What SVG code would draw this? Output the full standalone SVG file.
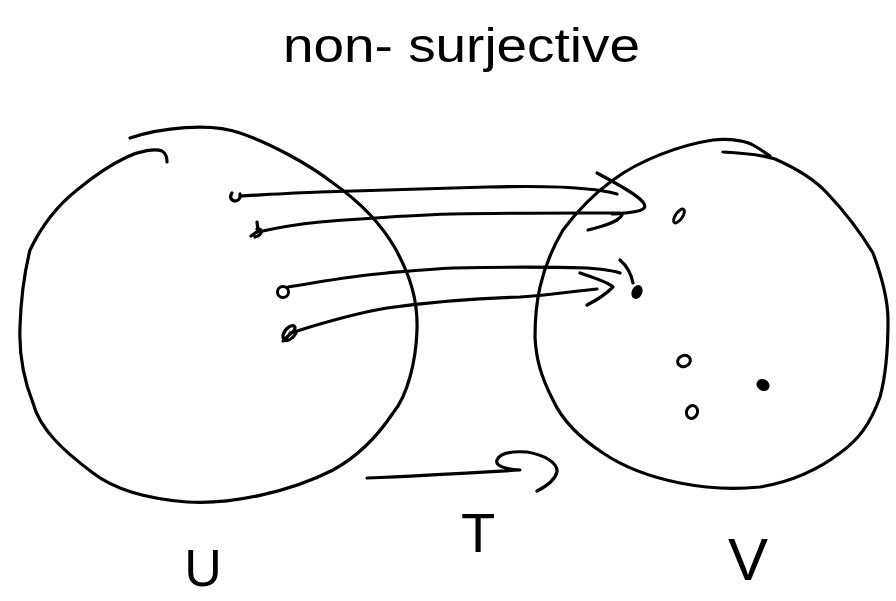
<svg xmlns="http://www.w3.org/2000/svg" width="896" height="601" viewBox="0 0 896 601">
<style>
.ink{fill:none;stroke:#000;stroke-width:3.2;stroke-linecap:round;stroke-linejoin:round}
.dot{fill:none;stroke:#000;stroke-width:3}
.fdot{fill:#000;stroke:#000;stroke-width:2.5}
.lbl{font-family:"Liberation Sans","DejaVu Sans",sans-serif;fill:#000;font-weight:normal}
</style>
<rect width="896" height="601" fill="#fff"/>
<text class="lbl" x="283" y="62" font-size="48" textLength="357" lengthAdjust="spacingAndGlyphs">non- surjective</text>
<g id="U">
<path class="ink" d="M130,138 C160,128 210,122 240,133 C270,143 310,165 333,183 C360,202 380,222 395,248 C410,275 418,300 417,330 C416,360 408,395 393,413 C375,440 355,458 333,470 C290,492 230,505 187,502 C150,499 115,490 93,473 C65,452 40,430 33,403 C22,375 19,350 20,327 C21,295 25,270 30,250 C42,225 58,205 77,190 C95,175 110,165 127,157 C140,151 155,148 162,151 C167,154 167,160 167,162"/>
<path class="ink" d="M232,193 C229,197 231,201 236,201 C240,200 241,196 240,194"/>
<path class="ink" d="M251,236 L258,231 L257,222 M255,237 C263,235 263,228 257,229"/>
<circle class="dot" cx="283" cy="292" r="5.5"/>
<path class="ink" d="M283,341 C288,335 296,331 295,327 C293,323 285,328 283,335 C282,343 291,342 296,333"/>
<text class="lbl" x="203" y="586" font-size="52" text-anchor="middle">U</text>
</g>
<g id="V">
<path class="ink" d="M723,152 C745,153 765,156 775,159 C800,170 815,180 827,193 C848,215 862,235 873,253 C883,280 888,300 888,320 C888,350 886,375 880,397 C870,425 858,440 840,453 C815,472 790,482 760,487 C730,490 705,488 680,483 C650,477 625,468 603,453 C580,438 562,420 553,400 C540,375 536,357 535,337 C535,315 537,300 540,287 C545,265 553,247 563,230 C578,210 595,193 613,180 C640,160 680,145 713,140 C733,138 748,142 753,145 C760,149 764,152 770,156"/>
<ellipse class="dot" cx="679" cy="216" rx="3.5" ry="8" transform="rotate(35 679 216)"/>
<ellipse class="fdot" cx="637" cy="292" rx="4" ry="6" transform="rotate(25 637 292)"/>
<ellipse class="dot" cx="684" cy="361" rx="6.5" ry="5.5" transform="rotate(-20 684 361)"/>
<ellipse class="fdot" cx="763" cy="385" rx="5.5" ry="4.5" transform="rotate(30 763 385)"/>
<ellipse class="dot" cx="692" cy="412" rx="5.5" ry="6.5" transform="rotate(20 692 412)"/>
<text class="lbl" x="748" y="580" font-size="60" text-anchor="middle">V</text>
</g>
<g id="connectors">
<path class="ink" d="M240,196 C260,195 290,193 320,192 C380,190 440,188 487,187 C530,186 570,187 587,189 C600,190 610,192 617,194"/>
<path class="ink" d="M597,173 C625,188 652,203 643,209 C637,213 625,213 612,214"/>
<path class="ink" d="M258,232 C280,227 300,224 320,222 C370,218 410,215 453,214 C500,213 550,213 587,213 C600,213 612,213 620,213"/>
<path class="ink" d="M622,215 C618,222 605,226 588,230"/>
<path class="ink" d="M288,287 C320,282 350,276 387,273 C410,271 430,269 453,268 C500,267 550,267 587,268 C600,269 612,270 620,273"/>
<path class="ink" d="M620,260 C627,266 631,273 633,283"/>
<path class="ink" d="M290,333 C320,324 350,314 387,308 C430,302 480,298 520,297 C550,295 575,291 597,289"/>
<path class="ink" d="M580,273 C595,278 608,282 613,287 C605,295 597,300 587,305"/>
<path class="ink" d="M367,478 C420,476 470,473 520,470 C505,469 495,466 497,460 C500,453 512,451 527,452 C545,455 558,463 557,472 C555,480 547,486 537,491"/>
<text class="lbl" x="478" y="552" font-size="56" text-anchor="middle">T</text>
</g>
</svg>
